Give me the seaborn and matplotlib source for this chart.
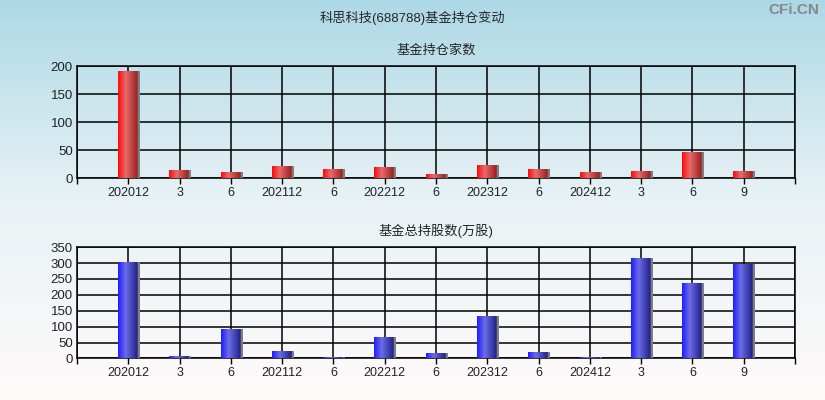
import numpy as np
import pandas as pd
import matplotlib
matplotlib.use('Agg')
import matplotlib.pyplot as plt
import seaborn as sns
from matplotlib.colors import LinearSegmentedColormap

# ── Data ─────────────────────────────────────────────────────
periods   = ['202012', '3', '6', '202112', '6', '202212', '6',
             '202312', '6', '202412', '3', '6', '9']
fund_cnt  = [191, 14, 9, 21, 16, 18, 7, 23, 16, 9, 12, 45, 11]
fund_hold = [300, 4, 90, 20, 3, 64, 14, 130, 17, 3, 313, 234, 294]

title_main = '科思科技(688788)基金持仓变动'
title_top  = '基金持仓家数'
title_bot  = '基金总持股数(万股)'

sns.set_style('white')
plt.rcParams['font.family'] = ['Liberation Sans', 'Noto Sans CJK SC', 'DejaVu Sans']

df = pd.DataFrame({'pos': np.arange(len(periods)),
                   'cnt': fund_cnt, 'hold': fund_hold})

fig = plt.figure(figsize=(8.25, 4), dpi=100)

# ── Background gradient ──────────────────────────────────────
bg = fig.add_axes([0, 0, 1, 1], zorder=-10)
bg_cmap = LinearSegmentedColormap.from_list(
    'bg', [(173/255, 216/255, 230/255), (232/255, 242/255, 245/255), (255/255, 250/255, 250/255)])
bg.imshow(np.linspace(0, 1, 256).reshape(-1, 1), aspect='auto', cmap=bg_cmap,
          extent=[0, 1, 0, 1])
bg.set_axis_off()

red_cmap = LinearSegmentedColormap.from_list(
    'red', [(0, '#ff0a0a'), (0.35, '#e86a6a'), (0.9, '#9a2020'), (0.91, '#808080'), (1, '#808080')])
blue_cmap = LinearSegmentedColormap.from_list(
    'blue', [(0, '#1e1eff'), (0.35, '#6c6ce6'), (0.9, '#20208a'), (0.91, '#808080'), (1, '#808080')])


def draw_panel(ax, col, cmap, ymax, step, title):
    sns.barplot(data=df, x='pos', y=col, ax=ax, native_scale=True,
                width=0.4, color='red', saturation=1, edgecolor='none')
    grad = np.linspace(0, 1, 64).reshape(1, -1)
    for p in list(ax.patches):
        x0, y0 = p.get_x(), p.get_y()
        w, h = p.get_width(), p.get_height()
        im = ax.imshow(grad, cmap=cmap, aspect='auto', zorder=3,
                       extent=[x0, x0 + w * 1.05, y0, y0 + h])
        p.set_visible(False)
    ax.set_xlim(-1, len(periods))
    ax.set_ylim(0, ymax)
    ax.set_facecolor('none')
    ax.set_xticks(np.arange(-1, len(periods) + 1))
    ax.set_xticklabels([''] + periods + [''])
    ax.set_yticks(np.arange(0, ymax + 1, step))
    ax.grid(True, color='black', linewidth=1.1, zorder=0)
    ax.set_axisbelow(True)
    for s in ax.spines.values():
        s.set_color('black')
        s.set_linewidth(1.1)
    ax.tick_params(axis='x', length=4, width=1, color='black', labelsize=9,
                   labelcolor='#222222', bottom=True, pad=2)
    ax.tick_params(axis='y', length=0, labelsize=9.5, labelcolor='#222222', left=False, pad=3)
    ax.set_xlabel('')
    ax.set_ylabel('')
    ax.set_title(title, fontsize=9.5, pad=9)


ax1 = fig.add_axes([0.0933, 0.554, 0.8703, 0.280])
draw_panel(ax1, 'cnt', red_cmap, 200, 50, title_top)

ax2 = fig.add_axes([0.0933, 0.104, 0.8703, 0.278])
draw_panel(ax2, 'hold', blue_cmap, 350, 50, title_bot)

fig.text(0.5, 0.955, title_main, ha='center', va='center', fontsize=9.5)
fig.text(0.993, 0.975, 'CFi.CN', ha='right', va='center', fontsize=11,
         color='#888888', fontweight='bold')

plt.savefig('out.png', dpi=100)
plt.close()
